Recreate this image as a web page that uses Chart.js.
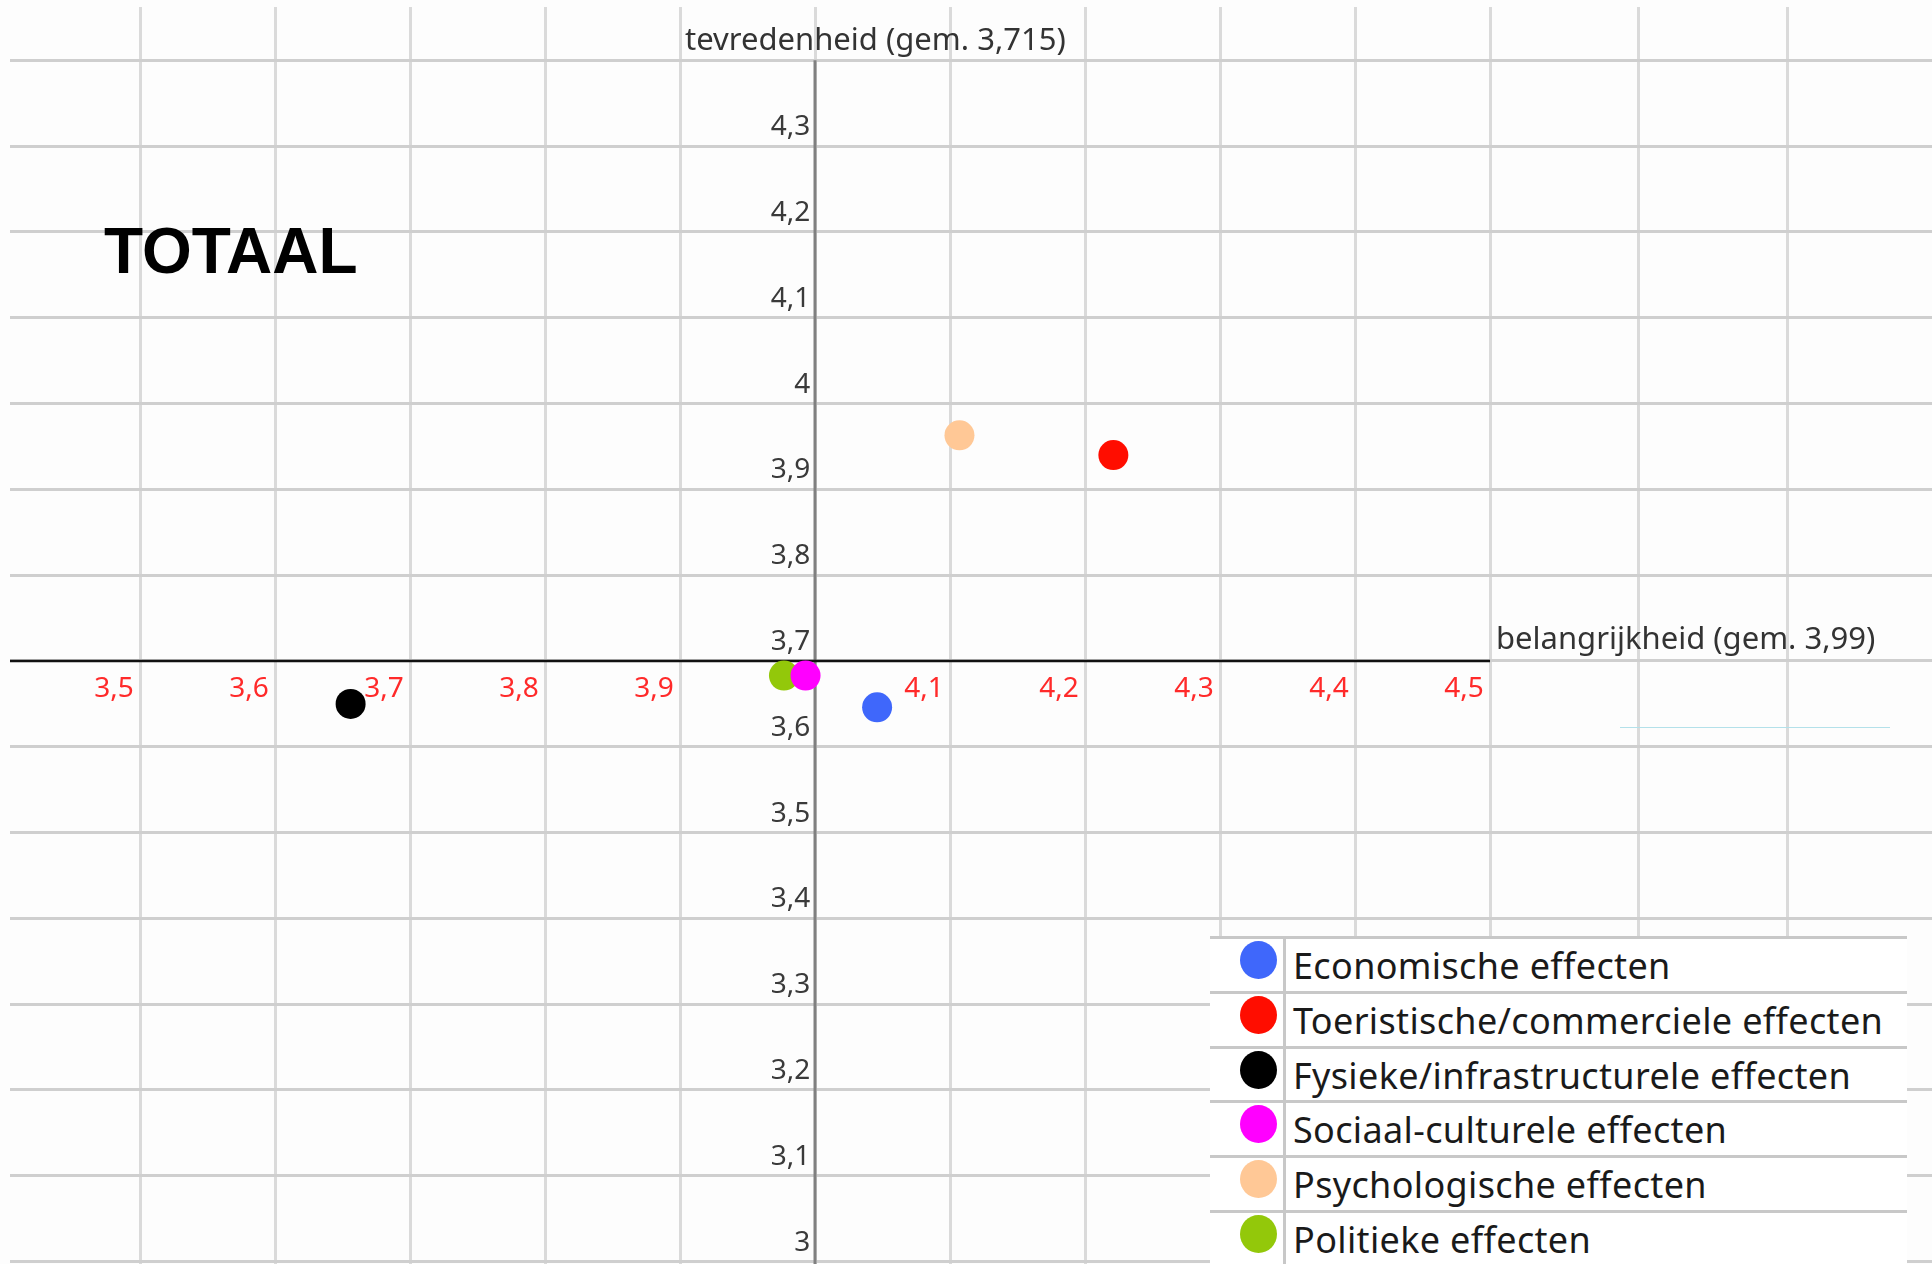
<!DOCTYPE html>
<html>
<head>
<meta charset="utf-8">
<script src="https://cdn.jsdelivr.net/npm/chart.js@4.4.1/dist/chart.umd.min.js"></script>
<style>
  html, body { margin: 0; padding: 0; background: #fff; }
  #wrap { position: relative; width: 1932px; height: 1264px; overflow: hidden; background: #fdfdfd; }
  /* canvas is larger than the page so the plot area fills the page edge to edge */
  #chart { position: absolute; left: -20px; top: -23px; }
  #title {
    position: absolute; left: 104px; top: 219px;
    font: bold 64px 'Liberation Sans', Arial, sans-serif; line-height: 1; color: #000;
  }
  #legend {
    position: absolute; left: 1210px; top: 936px; width: 697px; height: 330px;
    background: #fff; font-family: 'Noto Sans', sans-serif; color: #1a1a1a;
  }
  .lg-row { display: flex; height: 54.8px; box-sizing: border-box; border-top: 3px solid #c8c8c8; }
  .lg-mark { width: 76px; box-sizing: border-box; border-right: 3px solid #c8c8c8; position: relative; }
  .lg-dot { position: absolute; left: 30px; top: 2px; width: 37px; height: 38px; border-radius: 50%; }
  .lg-text { padding: 9px 0 0 7px; font-size: 36px; letter-spacing: 0.35px; line-height: 1; white-space: nowrap; }
  #cyan { position: absolute; left: 1620px; top: 727px; width: 270px; height: 1px; background: #b4e1ea; }
</style>
</head>
<body>
<div id="wrap">
  <canvas id="chart" width="1982" height="1317"></canvas>
  <div id="title">TOTAAL</div>
  <div id="cyan"></div>
  <div id="legend"></div>
</div>
<script>
'use strict';

// ── Data ────────────────────────────────────────────────────────
const categories = [
  'Economische effecten',
  'Toeristische/commerciele effecten',
  'Fysieke/infrastructurele effecten',
  'Sociaal-culturele effecten',
  'Psychologische effecten',
  'Politieke effecten',
];
const belangrijkheid = [4.046, 4.221, 3.656, 3.993, 4.107, 3.977];
const tevredenheid   = [3.646, 3.940, 3.650, 3.683, 3.963, 3.683];
const seriesColors   = ['#3f67fb', '#ff0d00', '#000000', '#ff00ff', '#ffc896', '#93c80a'];

const xTicks      = [3.5, 3.6, 3.7, 3.8, 3.9, 4.0, 4.1, 4.2, 4.3, 4.4, 4.5];
const xTickLabels = ['3,5', '3,6', '3,7', '3,8', '3,9', '', '4,1', '4,2', '4,3', '4,4', '4,5'];
const xSheetCols  = [4.61, 4.72];   // spreadsheet cell borders right of the plot
const yTicks      = [3.0, 3.1, 3.2, 3.3, 3.4, 3.5, 3.6, 3.7, 3.8, 3.9, 4.0, 4.1, 4.2, 4.3, 4.4];
const yTickLabels = ['3', '3,1', '3,2', '3,3', '3,4', '3,5', '3,6', '3,7', '3,8', '3,9', '4', '4,1', '4,2', '4,3', ''];

const xCross = 4.0;   // vertical axis crosses here
const yCross = 3.7;   // horizontal axis crosses here
const xTitle = 'belangrijkheid (gem. 3,99)';
const yTitle = 'tevredenheid (gem. 3,715)';

// ── Crossing axes + axis titles ─────────────────────────────────
const crossAxes = {
  id: 'crossAxes',
  beforeDatasetsDraw(chart) {
    const { ctx, chartArea, scales: { x, y } } = chart;
    const px = x.getPixelForValue(xCross);
    const py = y.getPixelForValue(yCross);
    const yTop = y.getPixelForValue(yTicks[yTicks.length - 1]);
    const xEnd = x.getPixelForValue(xTicks[xTicks.length - 1]);
    ctx.save();
    // vertical axis
    ctx.strokeStyle = '#808080';
    ctx.lineWidth = 3;
    ctx.beginPath();
    ctx.moveTo(px, yTop);
    ctx.lineTo(px, chartArea.bottom);
    ctx.stroke();
    // horizontal axis
    ctx.strokeStyle = '#111';
    ctx.lineWidth = 2.5;
    ctx.beginPath();
    ctx.moveTo(chartArea.left, py);
    ctx.lineTo(xEnd, py);
    ctx.stroke();
    // titles
    ctx.font = '31px "Noto Sans"';
    ctx.fillStyle = '#333';
    ctx.textBaseline = 'middle';
    ctx.textAlign = 'left';
    ctx.fillText(yTitle, x.getPixelForValue(3.9) + 5, yTop - 19);
    ctx.fillText(xTitle, xEnd + 6, py - 21);
    ctx.restore();
  },
};

const tickFont = { family: "'Noto Sans'", size: 28 };

new Chart(document.getElementById('chart'), {
  type: 'scatter',
  data: {
    datasets: categories.map((c, i) => ({
      label: c,
      data: [{ x: belangrijkheid[i], y: tevredenheid[i] }],
      backgroundColor: seriesColors[i],
      borderWidth: 0,
      pointRadius: 15,
      pointHoverRadius: 15,
    })),
  },
  options: {
    responsive: false,
    animation: false,
    devicePixelRatio: 1,
    events: [],
    layout: { padding: 30 },
    plugins: { legend: { display: false }, tooltip: { enabled: false } },
    scales: {
      x: {
        type: 'linear',
        min: 3.4037, max: 4.8274,
        position: { y: yCross },
        afterBuildTicks: s => { s.ticks = xTicks.concat(xSheetCols).map(v => ({ value: v })); },
        grid: { color: '#dadada', lineWidth: 3, drawTicks: false },
        border: { display: false },
        ticks: {
          color: '#ff2a2a', font: tickFont, padding: 11, labelOffset: -26,
          autoSkip: false, maxRotation: 0,
          callback: v => xTickLabels[xTicks.indexOf(v)] || '',
        },
      },
      y: {
        type: 'linear',
        min: 2.9972, max: 4.4622,
        position: { x: xCross },
        afterBuildTicks: s => { s.ticks = yTicks.map(v => ({ value: v })); },
        grid: { color: '#cfcfcf', lineWidth: 3, drawTicks: false },
        border: { display: false },
        ticks: {
          color: '#3a3a3a', font: tickFont, padding: 0, labelOffset: -19,
          autoSkip: false,
          callback: v => { const l = yTickLabels[yTicks.indexOf(v)]; return l ? l + '\u2009' : ''; },
        },
      },
    },
  },
  plugins: [crossAxes],
});

// ── Legend (table style) ────────────────────────────────────────
document.getElementById('legend').innerHTML = categories.map((c, i) =>
  `<div class="lg-row"><div class="lg-mark"><span class="lg-dot" style="background:${seriesColors[i]}"></span></div>` +
  `<div class="lg-text">${c}</div></div>`).join('');
</script>
</body>
</html>
